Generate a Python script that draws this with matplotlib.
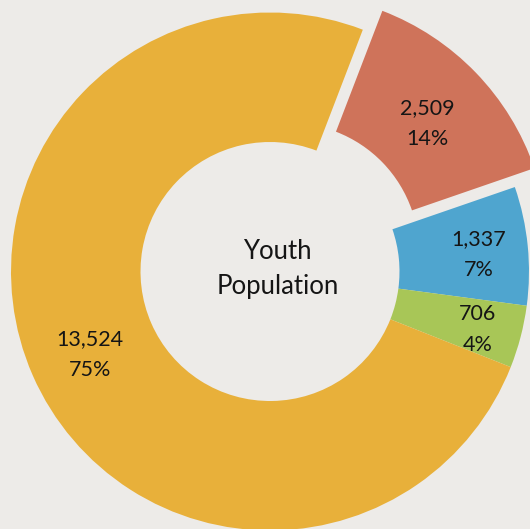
import numpy as np
import matplotlib.pyplot as plt

# youth population segments (clockwise from the exploded slice)
values = [2509, 1337, 706, 13524]
pct_labels = ["14%", "7%", "4%", "75%"]
colors = ["#CF735A", "#4FA5CF", "#A8C657", "#E8B03A"]
explode = [0.105, 0, 0, 0]
label_dist = [0.74, 0.81, 0.83, 0.76]
center_text = "Youth\nPopulation"

bg = "#EDEBE8"
plt.rcParams['font.family'] = ['Lato', 'DejaVu Sans']

fig = plt.figure(figsize=(5.30, 5.29), dpi=100)
fig.patch.set_facecolor(bg)
ax = fig.add_axes([0, 0, 1, 1])
ax.set_facecolor(bg)

wedges, _ = ax.pie(values, colors=colors, explode=explode, startangle=69,
                   counterclock=False, radius=1.0,
                   wedgeprops=dict(width=0.5, linewidth=0))

for w, v, p, d, e in zip(wedges, values, pct_labels, label_dist, explode):
    mid = np.deg2rad((w.theta1 + w.theta2) / 2)
    r = d + e
    ax.annotate(f"{v:,}\n{p}", (r * np.cos(mid), r * np.sin(mid)),
                xytext=(0, -4), textcoords="offset pixels",
                ha="center", va="center", fontsize=15.5, color="#151515",
                linespacing=1.7)

ax.text(0.03, 0.01, center_text, ha="center", va="center", fontsize=18.5,
        color="#151515", linespacing=1.5)

ax.set_xlim(-1.0425, 1.0039)
ax.set_ylim(-0.9942, 1.0483)
ax.set_aspect("auto")
ax.axis("off")

fig.savefig("out.png", dpi=100, facecolor=bg)
